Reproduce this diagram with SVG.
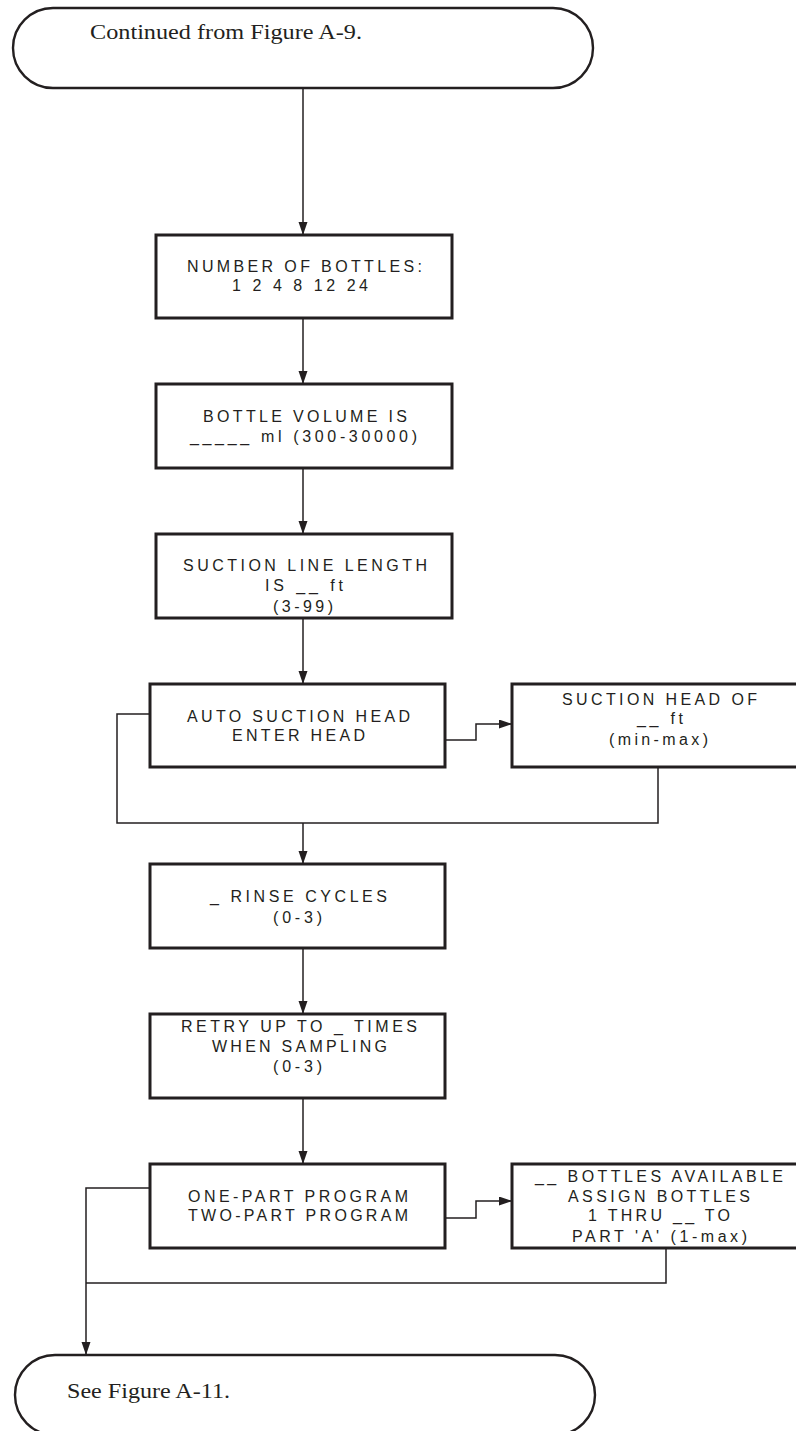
<svg xmlns="http://www.w3.org/2000/svg" width="796" height="1431" viewBox="0 0 796 1431">
<style>
.term{fill:#fff;stroke:#231f20;stroke-width:2.4}
.box{fill:#fff;stroke:#231f20;stroke-width:3}
.conn{fill:none;stroke:#231f20;stroke-width:1.5}
.serif{font-family:"Liberation Serif","Times New Roman",serif;font-size:21.5px;fill:#231f20}
.sans{font-family:"Liberation Sans",Arial,sans-serif;font-size:16px;fill:#231f20}
</style>
<defs>
<marker id="arr" markerUnits="userSpaceOnUse" markerWidth="14" markerHeight="10" refX="13" refY="4.5" orient="auto">
<path d="M0,0 L13,4.5 L0,9 z" fill="#231f20"/>
</marker>
</defs>
<rect x="0" y="0" width="796" height="1431" fill="#fff"/>
<g id="connectors">
<path class="conn" d="M303,88 V235" marker-end="url(#arr)"/>
<path class="conn" d="M303,318 V384" marker-end="url(#arr)"/>
<path class="conn" d="M303,468 V534" marker-end="url(#arr)"/>
<path class="conn" d="M303,618 V684" marker-end="url(#arr)"/>
<path class="conn" d="M445,740 H476 V724 H512" marker-end="url(#arr)"/>
<path class="conn" d="M150,714 H117 V823 H658 V767"/>
<path class="conn" d="M303,823 V864" marker-end="url(#arr)"/>
<path class="conn" d="M303,948 V1014" marker-end="url(#arr)"/>
<path class="conn" d="M303,1098 V1164" marker-end="url(#arr)"/>
<path class="conn" d="M445,1218 H476 V1201 H512" marker-end="url(#arr)"/>
<path class="conn" d="M150,1188 H86 V1355" marker-end="url(#arr)"/>
<path class="conn" d="M86,1283 H666 V1248"/>
</g>
<g id="start">
<rect class="term" x="13" y="8" width="580" height="80" rx="40" ry="40"/>
<text class="serif" x="90" y="39" textLength="272" lengthAdjust="spacingAndGlyphs">Continued from Figure A-9.</text>
</g>
<g id="bottles">
<rect class="box" x="156" y="235" width="296" height="83"/>
<text class="sans" x="187" y="272" textLength="235" lengthAdjust="spacing">NUMBER OF BOTTLES:</text>
<text class="sans" x="232" y="291" textLength="136" lengthAdjust="spacing">1 2 4 8 12 24</text>
</g>
<g id="volume">
<rect class="box" x="156" y="384" width="296" height="84"/>
<text class="sans" x="203" y="422" textLength="204" lengthAdjust="spacing">BOTTLE VOLUME IS</text>
<text class="sans" x="190" y="442" textLength="227" lengthAdjust="spacing">_____ ml (300-30000)</text>
</g>
<g id="suction-line">
<rect class="box" x="156" y="534" width="296" height="84"/>
<text class="sans" x="183" y="571" textLength="244" lengthAdjust="spacing">SUCTION LINE LENGTH</text>
<text class="sans" x="265" y="591" textLength="78" lengthAdjust="spacing">IS __ ft</text>
<text class="sans" x="273" y="612" textLength="60" lengthAdjust="spacing">(3-99)</text>
</g>
<g id="auto-head">
<rect class="box" x="150" y="684" width="295" height="83"/>
<text class="sans" x="187" y="722" textLength="223" lengthAdjust="spacing">AUTO SUCTION HEAD</text>
<text class="sans" x="232" y="741" textLength="133" lengthAdjust="spacing">ENTER HEAD</text>
</g>
<g id="suction-head">
<rect class="box" x="512" y="684" width="288" height="83"/>
<text class="sans" x="562" y="705" textLength="195" lengthAdjust="spacing">SUCTION HEAD OF</text>
<text class="sans" x="637" y="724" textLength="46" lengthAdjust="spacing">__ ft</text>
<text class="sans" x="609" y="745" textLength="99" lengthAdjust="spacing">(min-max)</text>
</g>
<g id="rinse">
<rect class="box" x="150" y="864" width="295" height="84"/>
<text class="sans" x="210" y="902" textLength="177" lengthAdjust="spacing">_ RINSE CYCLES</text>
<text class="sans" x="273" y="923" textLength="49" lengthAdjust="spacing">(0-3)</text>
</g>
<g id="retry">
<rect class="box" x="150" y="1014" width="295" height="84"/>
<text class="sans" x="181" y="1032" textLength="236" lengthAdjust="spacing">RETRY UP TO _ TIMES</text>
<text class="sans" x="212" y="1052" textLength="175" lengthAdjust="spacing">WHEN SAMPLING</text>
<text class="sans" x="273" y="1072" textLength="49" lengthAdjust="spacing">(0-3)</text>
</g>
<g id="program">
<rect class="box" x="150" y="1164" width="295" height="84"/>
<text class="sans" x="188" y="1202" textLength="220" lengthAdjust="spacing">ONE-PART PROGRAM</text>
<text class="sans" x="188" y="1221" textLength="220" lengthAdjust="spacing">TWO-PART PROGRAM</text>
</g>
<g id="assign">
<rect class="box" x="512" y="1164" width="288" height="84"/>
<text class="sans" x="535" y="1182" textLength="248" lengthAdjust="spacing">__ BOTTLES AVAILABLE</text>
<text class="sans" x="568" y="1202" textLength="182" lengthAdjust="spacing">ASSIGN BOTTLES</text>
<text class="sans" x="588" y="1221" textLength="142" lengthAdjust="spacing">1 THRU __ TO</text>
<text class="sans" x="572" y="1242" textLength="175" lengthAdjust="spacing">PART 'A' (1-max)</text>
</g>
<g id="end">
<rect class="term" x="15" y="1355" width="580" height="80" rx="40" ry="40"/>
<text class="serif" x="67" y="1398" textLength="163" lengthAdjust="spacingAndGlyphs">See Figure A-11.</text>
</g>
</svg>
